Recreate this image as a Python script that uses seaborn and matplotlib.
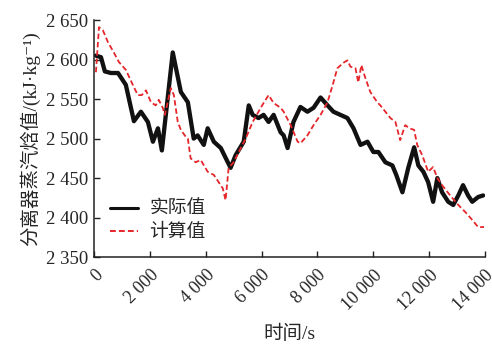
import numpy as np
import pandas as pd
import matplotlib
matplotlib.use("Agg")
import matplotlib.pyplot as plt
import matplotlib.transforms as mtransforms
import seaborn as sns

# Measured separator steam enthalpy (实际值)
t_actual = [70, 250, 390, 610, 860, 1140, 1430, 1680, 1930, 2110, 2290, 2430,
            2820, 3110, 3360, 3570, 3710, 3930, 4070, 4290, 4540, 4790, 4890,
            5070, 5360, 5540, 5680, 5890, 6070, 6250, 6430, 6680, 6790, 6930,
            7140, 7390, 7640, 7860, 8110, 8360, 8570, 8820, 9070, 9290, 9540,
            9790, 10000, 10180, 10430, 10680, 10820, 11040, 11250, 11460,
            11610, 11790, 11960, 12140, 12290, 12460, 12680, 12860, 13040,
            13210, 13390, 13540, 13750, 13930]
h_actual = [2605, 2603, 2585, 2583, 2583, 2568, 2522, 2534, 2521, 2496, 2513, 2485,
            2609, 2559, 2546, 2500, 2504, 2492, 2513, 2496, 2488, 2470, 2463,
            2479, 2496, 2542, 2530, 2526, 2530, 2521, 2530, 2508, 2504, 2488,
            2521, 2540, 2534, 2539, 2552, 2542, 2534, 2530, 2526, 2513, 2492,
            2496, 2483, 2483, 2470, 2466, 2454, 2432, 2463, 2489,
            2466, 2458, 2445, 2420, 2450, 2432, 2420, 2416, 2428,
            2441, 2428, 2420, 2426, 2428]

# Calculated separator steam enthalpy (计算值)
t_calc = [70, 180, 320, 500, 710, 890, 1140, 1390, 1570, 1710, 1860, 2040, 2210,
          2320, 2460, 2540, 2750, 2860, 3000, 3110, 3290, 3360, 3460, 3640,
          3820, 4070, 4290, 4460, 4610, 4710, 4820, 5000, 5180, 5430, 5680,
          5890, 6070, 6250, 6430, 6680, 6790, 7040, 7290, 7390, 7640, 7860,
          8110, 8360, 8570, 8710, 8930, 9070, 9180, 9360, 9460, 9570, 9710,
          9890, 10140, 10250, 10610, 10790, 10960, 11140, 11290, 11460, 11570,
          11750, 11960, 12140, 12290, 12460, 12750, 13040, 13290, 13540,
          13750, 13960]
h_calc = [2584, 2641, 2637, 2622, 2609, 2597, 2587, 2568, 2555, 2555, 2561, 2546, 2542,
          2549, 2539, 2530, 2564, 2555, 2521, 2511, 2502, 2500, 2475, 2470,
          2473, 2458, 2454, 2445, 2437, 2422, 2463, 2470, 2483, 2500, 2521,
          2534, 2545, 2555, 2545, 2539, 2534, 2517, 2496, 2494, 2504, 2517,
          2530, 2546, 2571, 2589, 2596, 2599, 2591, 2589, 2571, 2593, 2577,
          2559, 2546, 2542, 2526, 2521, 2498, 2517, 2513, 2511, 2492,
          2479, 2458, 2464, 2450, 2441, 2428, 2416, 2407, 2397,
          2388, 2388]

x_ticks = [0, 2000, 4000, 6000, 8000, 10000, 12000, 14000]
x_ticklabels = ["0", "2 000", "4 000", "6 000", "8 000", "10 000", "12 000", "14 000"]
y_ticks = [2350, 2400, 2450, 2500, 2550, 2600, 2650]
y_ticklabels = ["2 350", "2 400", "2 450", "2 500", "2 550", "2 600", "2 650"]

sns.set_style("ticks")
plt.rcParams["font.family"] = ["Liberation Serif", "Noto Sans CJK SC", "DejaVu Sans"]
plt.rcParams["axes.unicode_minus"] = False

fig = plt.figure(figsize=(4.92, 3.46), dpi=100)
ax = fig.add_axes([0.191, 0.257, 0.795, 0.685])

sns.lineplot(x=t_actual, y=h_actual, ax=ax, color="#111111", lw=3.1,
             label="实际值")
sns.lineplot(x=t_calc, y=h_calc, ax=ax, color="#e5262b", lw=1.3,
             linestyle=(0, (3, 1.6)), label="计算值")

ax.set_xlim(0, 14000)
ax.set_ylim(2350, 2650)
ax.set_xticks(x_ticks)
ax.set_xticklabels(x_ticklabels, rotation=45, ha="right", rotation_mode="anchor",
                   fontsize=13)
shift = mtransforms.ScaledTranslation(-6 / 100, 0, fig.dpi_scale_trans)
for lab in ax.get_xticklabels():
    lab.set_transform(lab.get_transform() + shift)
ax.set_yticks(y_ticks)
ax.set_yticklabels(y_ticklabels, fontsize=13.5)
ax.tick_params(direction="in", length=4, width=1, color="#222222")
ax.tick_params(axis="x", pad=7)
ax.tick_params(axis="y", pad=4)
for s in ("top", "right"):
    ax.spines[s].set_visible(False)
for s in ("left", "bottom"):
    ax.spines[s].set_linewidth(1.1)
    ax.spines[s].set_color("#222222")

ax.set_xlabel("时间/s", fontsize=14, labelpad=8)
ax.set_ylabel("分离器蒸汽焓值/(kJ·kg⁻¹)", fontsize=14, labelpad=4)

leg = ax.legend(loc="lower left", bbox_to_anchor=(0.0, 0.0), frameon=False,
                fontsize=13.5, handlelength=1.5, handletextpad=0.6,
                labelspacing=0.3, borderaxespad=0.45)
for h in leg.get_lines():
    h.set_linewidth(2.2 if h.get_color() == "#111111" else 1.4)

fig.savefig("out.png", dpi=100, facecolor="white")
